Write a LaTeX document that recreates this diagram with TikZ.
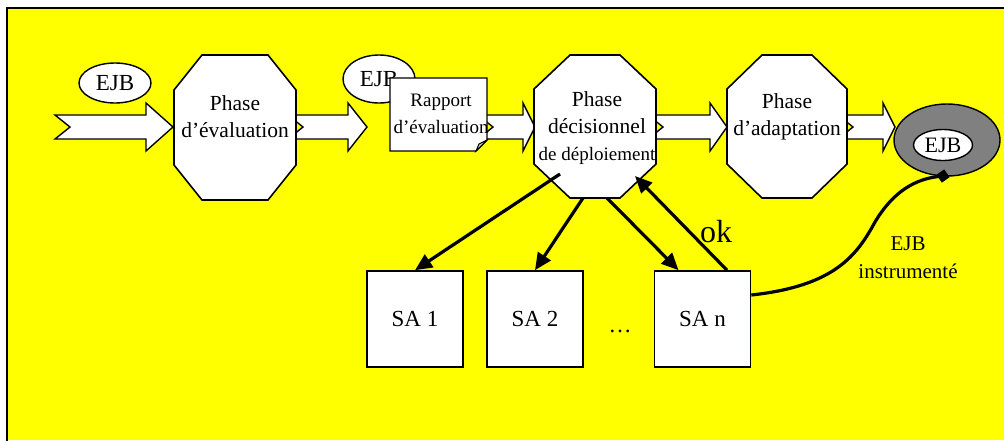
\documentclass[tikz,border=0pt]{standalone}
\usepackage{fontspec}
\setmainfont{Liberation Serif}
\usetikzlibrary{arrows.meta,calc,shapes.geometric}
\definecolor{bgyellow}{RGB}{255,255,0}
\newcommand{\blockarr}[3]{%
  \draw[blk] (#1,115) -- (#2,115) -- (#2,103) -- (#3,127) -- (#2,151) -- (#2,139) -- (#1,139) -- ({#1+15},127) -- cycle;}
\newcommand{\octo}[3]{%
  \draw[octline] ([xshift=#2]#1.north west) -- ([xshift=-#2]#1.north east) -- ([yshift=-#3]#1.north east) -- ([yshift=#3]#1.south east) -- ([xshift=-#2]#1.south east) -- ([xshift=#2]#1.south west) -- ([yshift=#3]#1.south west) -- ([yshift=-#3]#1.north west) -- cycle;}
\begin{document}
\begin{tikzpicture}[x=1pt,y=-1pt,
  blk/.style={draw=black,line width=1.4pt,fill=white,line join=miter},
  octbox/.style={draw=none,inner sep=0pt,outer sep=0pt,rectangle},
  octline/.style={draw=black,line width=1.6pt,fill=white},
  txt/.style={align=center,inner sep=0pt,font=\fontsize{21.5}{27}\selectfont},
  ejb/.style={ellipse,draw=black,line width=1.4pt,fill=white,inner sep=0pt,font=\fontsize{23}{26}\selectfont},
  sabox/.style={rectangle,draw=black,line width=1.6pt,fill=white,minimum width=96pt,minimum height=96pt,inner sep=0pt,font=\fontsize{23}{26}\selectfont},
  conn/.style={draw=black,line width=3.2pt,-{Triangle[length=17pt,width=15pt]}},
]
\useasboundingbox (0,0) rectangle (1004,440);
% background
\fill[bgyellow] (7,8) rectangle (1004,440);
\draw[line width=2pt] (7,441) -- (7,8) -- (1005,8);

% block arrows
\blockarr{55}{146}{173}
\blockarr{288}{348}{367}
\blockarr{478}{523}{535}
\blockarr{648}{710}{727}
\blockarr{838}{883}{895}

% EJB ellipses
\node[ejb,minimum width=72pt,minimum height=40pt] (ejb1) at (115,83) {EJB};
\node[ejb,minimum width=72pt,minimum height=48pt] (ejb2) at (379,79) {EJB};

% octagons
\node[octbox,minimum width=122pt,minimum height=145pt] (eval) at (235,127.5) {};
\octo{eval}{28}{35}
\node[txt] (evalt) at (235,117) {Phase\\d’évaluation};

\node[octbox,minimum width=122pt,minimum height=143pt] (dec) at (595,126.5) {};
\octo{dec}{36}{34}
\node[txt] (dect) at (597,128) {Phase\\décisionnel\\{\fontsize{19}{26}\selectfont de déploiement}};

\node[octbox,minimum width=120pt,minimum height=143pt] (adapt) at (787,126.5) {};
\octo{adapt}{35}{34}
\node[txt] (adaptt) at (787,117) {Phase\\d’adaptation};

% rapport document
\node[octbox,minimum width=97pt,minimum height=73pt] (rap) at (438.5,114.5) {};
\draw[octline,line width=1.4pt] (rap.north west) -- (rap.north east) -- ([yshift=11pt]rap.south east) -- ([xshift=-11pt]rap.south east) -- (rap.south west) -- cycle;
\draw[line width=1pt,fill=gray!40] ([yshift=11pt]rap.south east) -- ([xshift=-11pt]rap.south east) -- ([xshift=-8pt,yshift=7pt]rap.south east) -- cycle;
\node[txt,font=\fontsize{19}{27}\selectfont] (rapt) at (441,114) {Rapport\\d’évaluation};

% ring with EJB
\node[ellipse,draw=black,line width=1.4pt,fill=black!50,minimum width=106pt,minimum height=72pt,inner sep=0pt] (ring) at (947,140) {};
\node[ejb,minimum width=59pt,minimum height=31pt,font=\fontsize{22}{24}\selectfont] (ejb3) at (943,145) {EJB};

% SA boxes
\node[sabox] (sa1) at (415,319) {SA 1};
\node[sabox] (sa2) at (535,319) {SA 2};
\node[sabox] (san) at (702.5,319) {SA n};
\node[inner sep=0pt,font=\fontsize{23}{26}\selectfont] (dots) at (620,331) {…};

% connectors
\draw[conn] ([shift={(-35,47.5)}]dec.center) -- (sa1.north);
\draw[conn] ([shift={(-12,71.5)}]dec.center) -- (sa2.north);
\draw[conn] ([shift={(12,71.5)}]dec.center) -- ([xshift=-24pt]san.north);
\draw[conn] ([xshift=24.5pt]san.north) -- ([shift={(40,49.5)}]dec.center);
\node[inner sep=0pt,anchor=base,font=\fontsize{32}{36}\selectfont] (ok) at (716,242) {ok};

% instrumented EJB curve
\node[draw=black,fill=black,minimum size=9pt,inner sep=0pt,rotate=35] (pin) at (943,176) {};
\draw[line width=3.2pt] ([yshift=24pt]san.east) .. controls (835,286) and (857,255) .. (875,222) .. controls (893,192) and (915,178) .. (pin.center);
\node[txt,font=\fontsize{21}{28}\selectfont] (instr) at (908,258) {EJB\\instrumenté};
\end{tikzpicture}
\end{document}
